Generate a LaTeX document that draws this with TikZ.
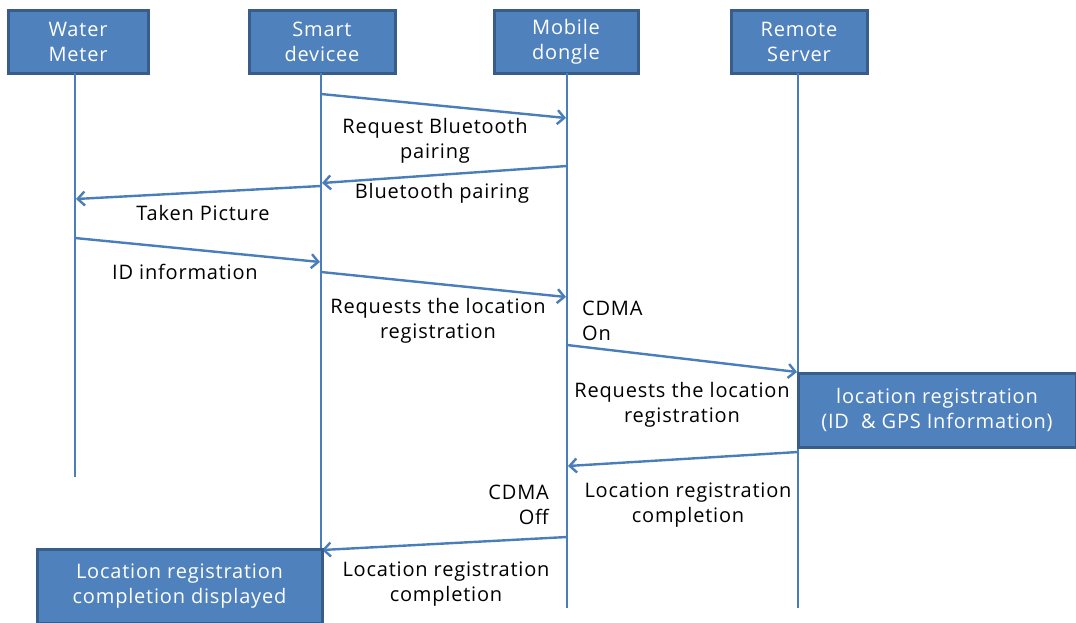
\documentclass[tikz,border=0pt]{standalone}
\usepackage{fontspec}
\setmainfont{Open Sans}[LetterSpace=4]
\usetikzlibrary{arrows.meta}
\definecolor{boxfill}{HTML}{4F81BD}
\definecolor{boxedge}{HTML}{385D8A}
\definecolor{lineblue}{HTML}{4A7EBB}
\tikzset{
  actor/.style={draw=boxedge, line width=3pt, fill=boxfill, text=white, align=center, inner sep=0pt, font=\fontsize{20}{25}\selectfont},
  life/.style={draw=lineblue, line width=2.4pt},
  msg/.style={draw=lineblue, line width=2.4pt, -{Straight Barb[length=7pt,width=14pt,line width=2.4pt]}},
  lbl/.style={align=center, inner sep=0pt, font=\fontsize{20}{25}\selectfont, text=black}
}
\begin{document}
\begin{tikzpicture}[x=1pt,y=-1pt]
\useasboundingbox (0,0) rectangle (1076,622);
% actors
\node[actor, minimum width=140pt, minimum height=63pt] (wm) at (78,42) {Water\\Meter};
\node[actor, minimum width=146pt, minimum height=63pt] (sd) at (322,42) {Smart\\devicee};
\node[actor, minimum width=144pt, minimum height=63pt] (md) at (566,42) {Mobile\\dongle};
\node[actor, minimum width=136pt, minimum height=63pt] (rs) at (799,42) {Remote\\Server};
% lifeline ends
\coordinate (wmt) at (75,73); \coordinate (wmb) at (75,477);
\coordinate (sdt) at (321,73); \coordinate (sdb) at (321,608);
\coordinate (mdt) at (567,73); \coordinate (mdb) at (567,608);
\coordinate (rst) at (798,73); \coordinate (rsb) at (798,608);
\draw[life] (wmt) -- (wmb);
\draw[life] (sdt) -- (sdb);
\draw[life] (mdt) -- (mdb);
\draw[life] (rst) -- (rsb);
% message points
\coordinate (a1) at (321,94);  \coordinate (b1) at (566,118);
\coordinate (a2) at (567,166); \coordinate (b2) at (322,183);
\coordinate (a3) at (321,186); \coordinate (b3) at (76,199);
\coordinate (a4) at (75,238);  \coordinate (b4) at (320,262);
\coordinate (a5) at (321,272); \coordinate (b5) at (566,297);
\coordinate (a6) at (567,345); \coordinate (b6) at (797,372);
\coordinate (a7) at (798,452); \coordinate (b7) at (568,466);
\coordinate (a8) at (567,537); \coordinate (b8) at (322,550);
\draw[msg] (a1) -- (b1);
\draw[msg] (a2) -- (b2);
\draw[msg] (a3) -- (b3);
\draw[msg] (a4) -- (b4);
\draw[msg] (a5) -- (b5);
\draw[msg] (a6) -- (b6);
\draw[msg] (a7) -- (b7);
\draw[msg] (a8) -- (b8);
% labels
\node[lbl] (l1) at (435,141) {Request Bluetooth\\pairing};
\node[lbl] (l2) at (442,193) {Bluetooth pairing};
\node[lbl] (l3) at (203,213) {Taken Picture};
\node[lbl] (l4) at (185,272) {ID information};
\node[lbl] (l5) at (438,321) {Requests the location\\registration};
\node[lbl, align=left, anchor=west] (l5b) at (582,321) {CDMA\\On};
\node[lbl] (l6) at (682,405) {Requests the location\\registration};
\node[lbl] (l7) at (688,505) {Location registration\\completion};
\node[lbl, align=right, anchor=east] (l7b) at (549,505) {CDMA\\Off};
\node[lbl] (l8) at (446,584) {Location registration\\completion};
% process boxes
\node[actor, minimum width=278pt, minimum height=74pt] (lr) at (937,410) {location registration\\(ID\ \ \& GPS Information)};
\node[actor, minimum width=285pt, minimum height=74pt] (lrd) at (179.5,586) {Location registration\\completion displayed};
\end{tikzpicture}
\end{document}
